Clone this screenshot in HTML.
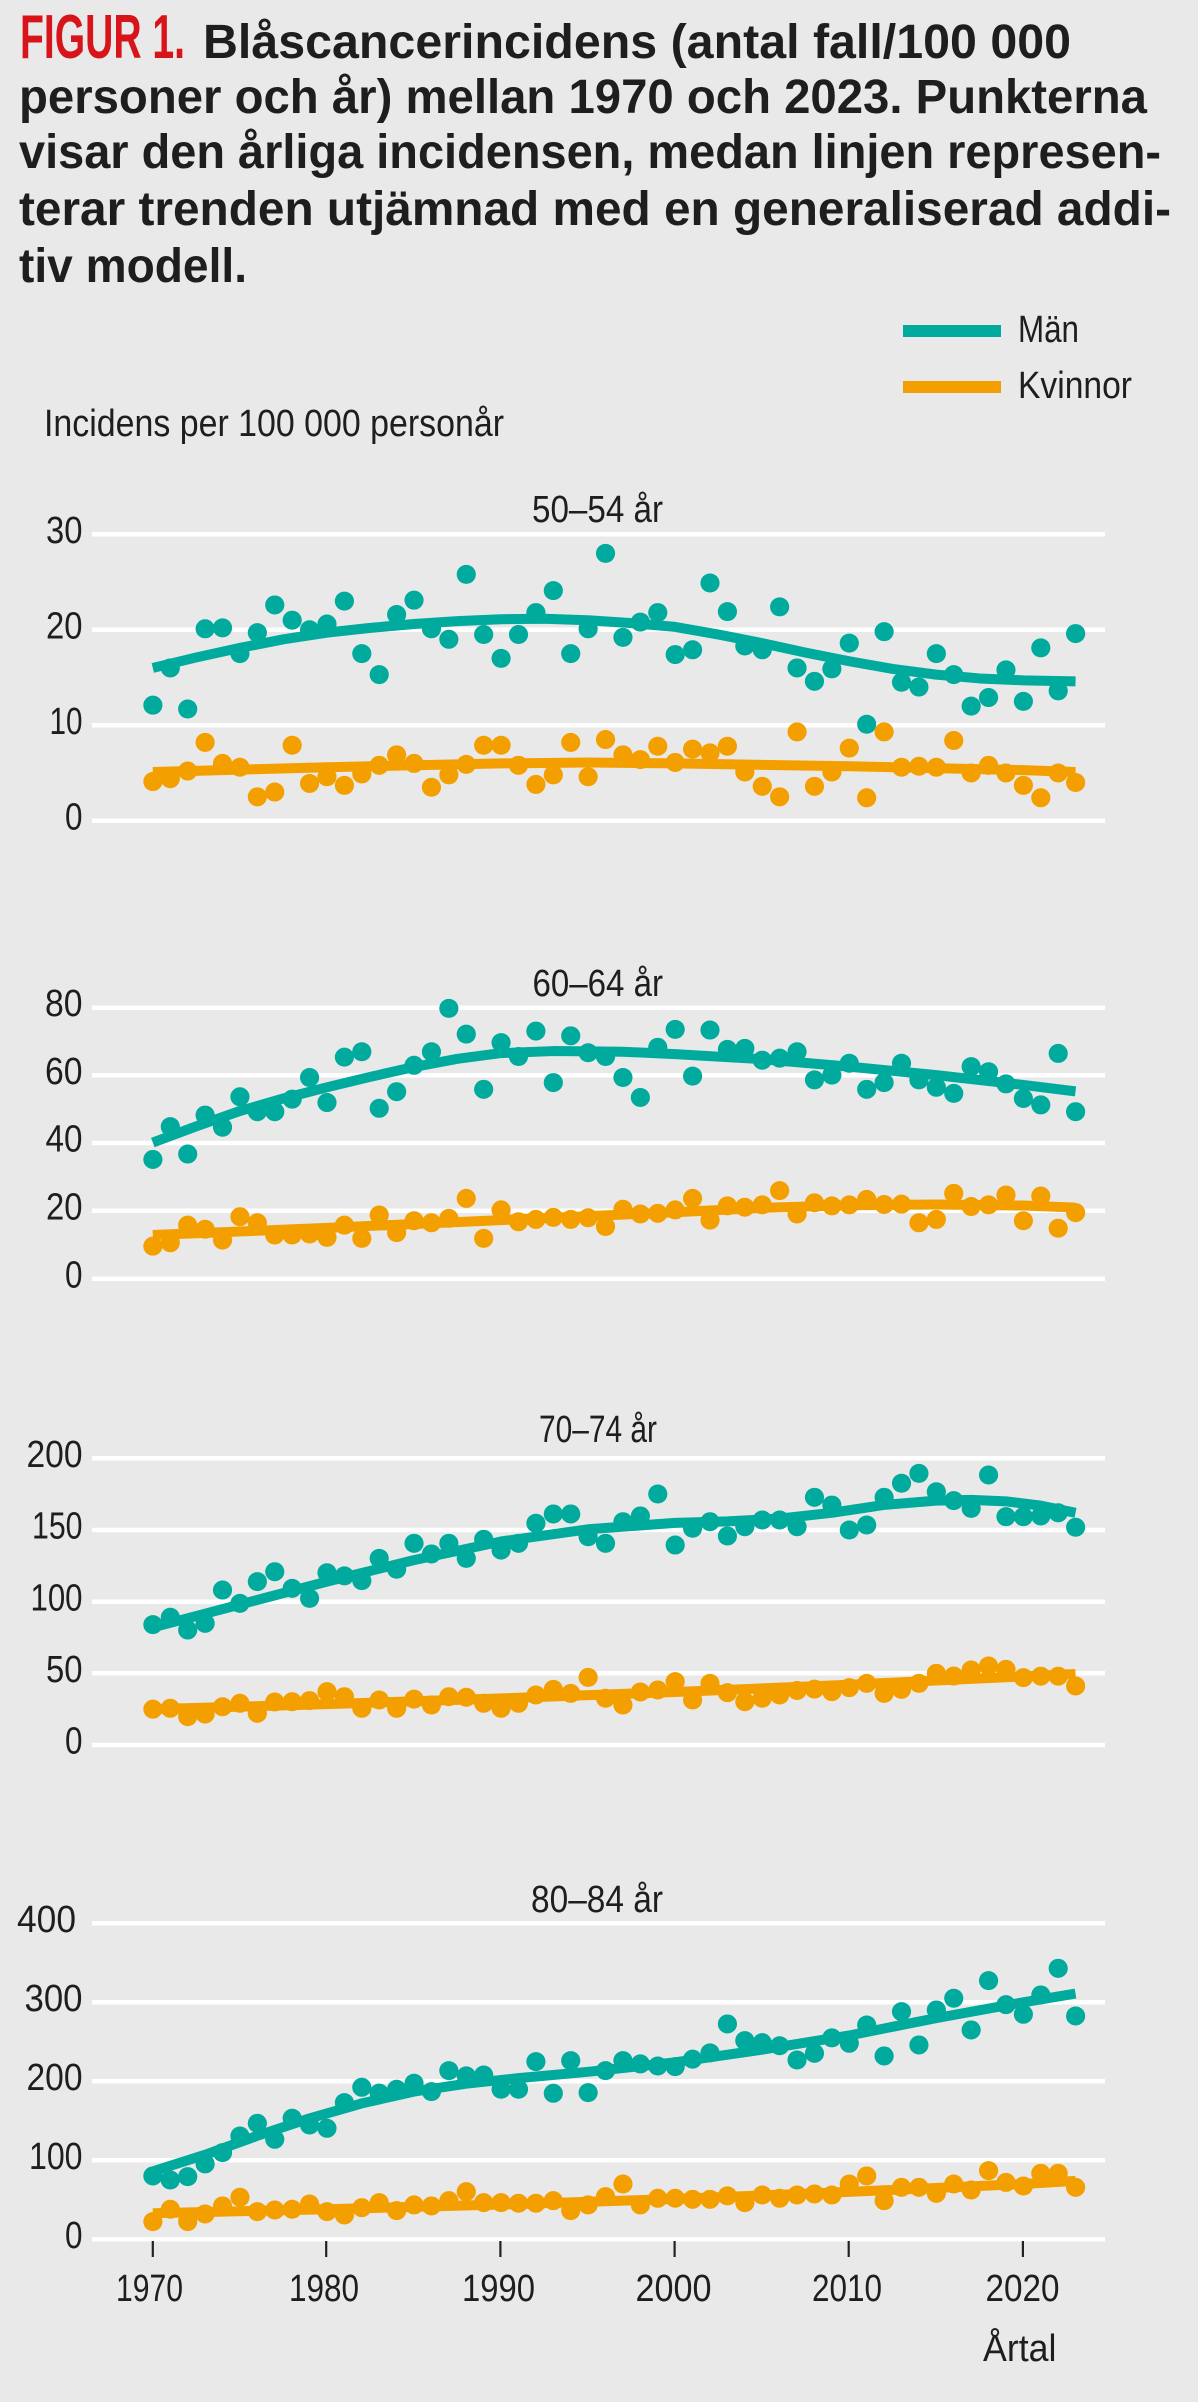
<!DOCTYPE html>
<html lang="sv">
<head>
<meta charset="utf-8">
<title>Figur 1 – Blåscancerincidens</title>
<style>
  html, body { margin: 0; padding: 0; background: #e9e9e9; }
  svg { display: block; }
  text { font-family: "Liberation Sans", Arial, sans-serif; fill: #1e1e1e; }
  .t { font-weight: bold; font-size: 48px; }
  .lab { font-size: 38px; }
  .grid { stroke: #ffffff; stroke-width: 4.5; }
  .dot { fill: none; stroke-linecap: round; stroke-width: 19; }
  .trend { fill: none; stroke-linecap: butt; stroke-linejoin: round; stroke-width: 10; }
  .teal { stroke: #00aa9d; }
  .orange { stroke: #f49f00; }
</style>
</head>
<body>
<svg width="1198" height="2402" viewBox="0 0 1198 2402" xmlns="http://www.w3.org/2000/svg">
  <rect x="0" y="0" width="1198" height="2402" fill="#e9e9e9"/>

  <!-- Title -->
  <text x="20" y="58" font-size="62" font-weight="bold" style="fill:#d7141a" textLength="165" lengthAdjust="spacingAndGlyphs">FIGUR 1.</text>
  <text class="t" x="203" y="58" textLength="868" lengthAdjust="spacingAndGlyphs">Blåscancerincidens (antal fall/100 000</text>
  <text class="t" x="19" y="113" textLength="1128" lengthAdjust="spacingAndGlyphs">personer och år) mellan 1970 och 2023. Punkterna</text>
  <text class="t" x="19" y="168" textLength="1142" lengthAdjust="spacingAndGlyphs">visar den årliga incidensen, medan linjen represen-</text>
  <text class="t" x="19" y="225" textLength="1152" lengthAdjust="spacingAndGlyphs">terar trenden utjämnad med en generaliserad addi-</text>
  <text class="t" x="19" y="282" textLength="228" lengthAdjust="spacingAndGlyphs">tiv modell.</text>

  <!-- Legend -->
  <rect x="903" y="325" width="98" height="12" fill="#00aa9d"/>
  <text class="lab" x="1018" y="342" font-size="39" textLength="61" lengthAdjust="spacingAndGlyphs">Män</text>
  <rect x="903" y="381" width="98" height="12" fill="#f49f00"/>
  <text class="lab" x="1018" y="398" font-size="39" textLength="114" lengthAdjust="spacingAndGlyphs">Kvinnor</text>

  <text class="lab" x="44" y="436" textLength="460" lengthAdjust="spacingAndGlyphs">Incidens per 100 000 personår</text>

  <!-- ================= Panel 1: 50–54 år ================= -->
  <text class="lab" x="532" y="522" textLength="131" lengthAdjust="spacingAndGlyphs">50–54 år</text>
  <line class="grid" x1="92" y1="534.3" x2="1105" y2="534.3"/>
  <line class="grid" x1="92" y1="629.7" x2="1105" y2="629.7"/>
  <line class="grid" x1="92" y1="725.3" x2="1105" y2="725.3"/>
  <line class="grid" x1="92" y1="820.7" x2="1105" y2="820.7"/>
  <text class="lab" x="46" y="543" textLength="36.5" lengthAdjust="spacingAndGlyphs">30</text>
  <text class="lab" x="46" y="638.5" textLength="36.5" lengthAdjust="spacingAndGlyphs">20</text>
  <text class="lab" x="49.5" y="734" textLength="33" lengthAdjust="spacingAndGlyphs">10</text>
  <text class="lab" x="65" y="829.5" textLength="17.5" lengthAdjust="spacingAndGlyphs">0</text>
  <g transform="matrix(17.41 0 0 -9.547 152.8 820.7)">
    <path class="trend teal" vector-effect="non-scaling-stroke" d="M0 16L2.5 17.1L5 18.1L7.5 19L10 19.7L12.5 20.2L15 20.6L17.5 20.9L20 21.1L22.5 21.15L25 21L27.5 20.7L30 20.3L32.5 19.5L35 18.6L37.5 17.6L40 16.7L42.5 15.9L45 15.3L47.5 14.9L50 14.7L53 14.6"/>
    <path class="trend orange" vector-effect="non-scaling-stroke" d="M0 5.1L10 5.6L20 6L25 6.1L30 6L40 5.7L50 5.3L53 5.1"/>
    <path class="dot teal" vector-effect="non-scaling-stroke" d="M0 12.1h.01M1 16h.01M2 11.7h.01M3 20.1h.01M4 20.2h.01M5 17.5h.01M6 19.7h.01M7 22.6h.01M8 21h.01M9 20h.01M10 20.6h.01M11 23h.01M12 17.5h.01M13 15.3h.01M14 21.6h.01M15 23.1h.01M16 20.1h.01M17 19h.01M18 25.8h.01M19 19.5h.01M20 17h.01M21 19.5h.01M22 21.8h.01M23 24.1h.01M24 17.5h.01M25 20.1h.01M26 28h.01M27 19.2h.01M28 20.8h.01M29 21.8h.01M30 17.4h.01M31 17.9h.01M32 24.9h.01M33 21.9h.01M34 18.3h.01M35 17.9h.01M36 22.4h.01M37 16h.01M38 14.6h.01M39 15.9h.01M40 18.6h.01M41 10.1h.01M42 19.8h.01M43 14.5h.01M44 14h.01M45 17.5h.01M46 15.3h.01M47 12h.01M48 12.9h.01M49 15.8h.01M50 12.5h.01M51 18.1h.01M52 13.6h.01M53 19.6h.01"/>
    <path class="dot orange" vector-effect="non-scaling-stroke" d="M0 4.1h.01M1 4.4h.01M2 5.2h.01M3 8.2h.01M4 6h.01M5 5.6h.01M6 2.5h.01M7 3h.01M8 7.9h.01M9 3.9h.01M10 4.6h.01M11 3.7h.01M12 4.9h.01M13 5.8h.01M14 6.9h.01M15 6h.01M16 3.5h.01M17 4.8h.01M18 5.9h.01M19 7.9h.01M20 7.9h.01M21 5.8h.01M22 3.8h.01M23 4.8h.01M24 8.2h.01M25 4.6h.01M26 8.5h.01M27 6.9h.01M28 6.4h.01M29 7.8h.01M30 6.1h.01M31 7.5h.01M32 7.1h.01M33 7.8h.01M34 5.1h.01M35 3.6h.01M36 2.5h.01M37 9.3h.01M38 3.6h.01M39 5.1h.01M40 7.6h.01M41 2.4h.01M42 9.3h.01M43 5.6h.01M44 5.7h.01M45 5.6h.01M46 8.4h.01M47 5h.01M48 5.8h.01M49 5h.01M50 3.7h.01M51 2.4h.01M52 5h.01M53 4h.01"/>
  </g>

  <!-- ================= Panel 2: 60–64 år ================= -->
  <text class="lab" x="532.5" y="996" textLength="130.5" lengthAdjust="spacingAndGlyphs">60–64 år</text>
  <line class="grid" x1="92" y1="1007.7" x2="1105" y2="1007.7"/>
  <line class="grid" x1="92" y1="1075.3" x2="1105" y2="1075.3"/>
  <line class="grid" x1="92" y1="1143" x2="1105" y2="1143"/>
  <line class="grid" x1="92" y1="1210.7" x2="1105" y2="1210.7"/>
  <line class="grid" x1="92" y1="1278.7" x2="1105" y2="1278.7"/>
  <text class="lab" x="45" y="1016" textLength="37.5" lengthAdjust="spacingAndGlyphs">80</text>
  <text class="lab" x="45" y="1084" textLength="37.5" lengthAdjust="spacingAndGlyphs">60</text>
  <text class="lab" x="45.5" y="1151.5" textLength="37" lengthAdjust="spacingAndGlyphs">40</text>
  <text class="lab" x="46" y="1219.5" textLength="36.5" lengthAdjust="spacingAndGlyphs">20</text>
  <text class="lab" x="65" y="1287.5" textLength="17.5" lengthAdjust="spacingAndGlyphs">0</text>
  <g transform="matrix(17.41 0 0 -3.3875 152.8 1278.7)">
    <path class="trend teal" vector-effect="non-scaling-stroke" d="M0 40.2L2.5 45L5 49.5L7.5 53.2L10 56.5L12.5 59.6L15 62.5L17.5 64.9L20 66.6L23 67.2L27 67L30 66.3L35 64.8L40 62.6L45 60.1L50 57.2L53 55.3"/>
    <path class="trend orange" vector-effect="non-scaling-stroke" d="M0 12.9L10 15L20 17.3L30 19.6L35 20.9L40 21.7L45 21.9L50 21.6L53 21"/>
    <path class="dot teal" vector-effect="non-scaling-stroke" d="M0 35.2h.01M1 44.9h.01M2 36.8h.01M3 48.3h.01M4 44.7h.01M5 53.7h.01M6 49.3h.01M7 49.3h.01M8 53h.01M9 59.4h.01M10 52h.01M11 65.4h.01M12 67h.01M13 50.3h.01M14 55.2h.01M15 63h.01M16 67h.01M17 79.8h.01M18 72.2h.01M19 55.9h.01M20 69.7h.01M21 65.6h.01M22 73.1h.01M23 57.9h.01M24 71.7h.01M25 66.7h.01M26 65.6h.01M27 59.4h.01M28 53.5h.01M29 68.3h.01M30 73.6h.01M31 59.8h.01M32 73.4h.01M33 67.7h.01M34 68h.01M35 64.5h.01M36 65.1h.01M37 67h.01M38 58.7h.01M39 60.1h.01M40 63.6h.01M41 55.9h.01M42 57.9h.01M43 63.6h.01M44 58.7h.01M45 56.5h.01M46 54.7h.01M47 62.6h.01M48 61.1h.01M49 57.5h.01M50 53.2h.01M51 51.3h.01M52 66.5h.01M53 49.3h.01"/>
    <path class="dot orange" vector-effect="non-scaling-stroke" d="M0 9.6h.01M1 10.6h.01M2 15.8h.01M3 14.6h.01M4 11.4h.01M5 18.3h.01M6 16.5h.01M7 12.9h.01M8 12.9h.01M9 13.2h.01M10 12.2h.01M11 15.8h.01M12 11.9h.01M13 18.8h.01M14 13.6h.01M15 17.1h.01M16 16.5h.01M17 17.8h.01M18 23.7h.01M19 11.9h.01M20 20.3h.01M21 16.8h.01M22 17.5h.01M23 18.1h.01M24 17.5h.01M25 18h.01M26 15.4h.01M27 20.5h.01M28 19.1h.01M29 19.3h.01M30 20.3h.01M31 23.7h.01M32 17.3h.01M33 21.5h.01M34 21.1h.01M35 21.8h.01M36 26h.01M37 19.1h.01M38 22.4h.01M39 21.5h.01M40 21.8h.01M41 23.4h.01M42 21.9h.01M43 22h.01M44 16.5h.01M45 17.5h.01M46 25.2h.01M47 21.3h.01M48 21.8h.01M49 24.7h.01M50 17.1h.01M51 24.4h.01M52 14.9h.01M53 19.5h.01"/>
  </g>

  <!-- ================= Panel 3: 70–74 år ================= -->
  <text class="lab" x="539" y="1442" textLength="118" lengthAdjust="spacingAndGlyphs">70–74 år</text>
  <line class="grid" x1="92" y1="1458.3" x2="1105" y2="1458.3"/>
  <line class="grid" x1="92" y1="1530" x2="1105" y2="1530"/>
  <line class="grid" x1="92" y1="1601.7" x2="1105" y2="1601.7"/>
  <line class="grid" x1="92" y1="1673.3" x2="1105" y2="1673.3"/>
  <line class="grid" x1="92" y1="1745" x2="1105" y2="1745"/>
  <text class="lab" x="26.5" y="1467" textLength="56" lengthAdjust="spacingAndGlyphs">200</text>
  <text class="lab" x="32" y="1538.5" textLength="50.5" lengthAdjust="spacingAndGlyphs">150</text>
  <text class="lab" x="30.5" y="1610.5" textLength="52" lengthAdjust="spacingAndGlyphs">100</text>
  <text class="lab" x="46" y="1682" textLength="36.5" lengthAdjust="spacingAndGlyphs">50</text>
  <text class="lab" x="65" y="1753.5" textLength="17.5" lengthAdjust="spacingAndGlyphs">0</text>
  <g transform="matrix(17.41 0 0 -1.4333 152.8 1745)">
    <path class="trend teal" vector-effect="non-scaling-stroke" d="M0 82L5 98L10 114L15 129L20 142L25 150.5L30 155L33 156L36 158L39 162L42 167.5L45 170.5L47 171L49 170L51 167L53 162"/>
    <path class="trend orange" vector-effect="non-scaling-stroke" d="M0 25L10 28.5L20 32.5L30 37L40 42L45 45L53 49.5"/>
    <path class="dot teal" vector-effect="non-scaling-stroke" d="M0 84h.01M1 89.1h.01M2 80.2h.01M3 84.9h.01M4 108.1h.01M5 98.8h.01M6 114h.01M7 120.9h.01M8 109.3h.01M9 102.3h.01M10 120.2h.01M11 118h.01M12 114.7h.01M13 130.2h.01M14 122.6h.01M15 140.7h.01M16 133.3h.01M17 140.7h.01M18 130.2h.01M19 143.5h.01M20 136h.01M21 140.7h.01M22 154.7h.01M23 161.2h.01M24 161.2h.01M25 145.3h.01M26 140.7h.01M27 155.8h.01M28 159.8h.01M29 175.1h.01M30 139.5h.01M31 151.2h.01M32 155.8h.01M33 145.8h.01M34 152.3h.01M35 157h.01M36 157h.01M37 152.3h.01M38 172.8h.01M39 167.4h.01M40 150h.01M41 153.5h.01M42 172.8h.01M43 182.6h.01M44 189.5h.01M45 176.7h.01M46 170.5h.01M47 165.1h.01M48 188.4h.01M49 159.3h.01M50 159.3h.01M51 159.8h.01M52 162h.01M53 151.9h.01"/>
    <path class="dot orange" vector-effect="non-scaling-stroke" d="M0 25h.01M1 25.6h.01M2 19.8h.01M3 21.6h.01M4 26.7h.01M5 29.1h.01M6 22.1h.01M7 30h.01M8 30.2h.01M9 31h.01M10 37.2h.01M11 33.7h.01M12 25.6h.01M13 31.4h.01M14 25.6h.01M15 32h.01M16 27.9h.01M17 33.7h.01M18 33.3h.01M19 29.1h.01M20 25.6h.01M21 29.1h.01M22 34.9h.01M23 38.8h.01M24 36h.01M25 47.2h.01M26 32.6h.01M27 27.9h.01M28 37h.01M29 38.4h.01M30 44.2h.01M31 31.4h.01M32 43h.01M33 36.5h.01M34 30.2h.01M35 32.6h.01M36 34.9h.01M37 38h.01M38 39h.01M39 37.2h.01M40 40h.01M41 43h.01M42 36h.01M43 38.8h.01M44 43h.01M45 50h.01M46 48.1h.01M47 52.3h.01M48 55.1h.01M49 52.8h.01M50 47h.01M51 48h.01M52 48h.01M53 41.2h.01"/>
  </g>

  <!-- ================= Panel 4: 80–84 år ================= -->
  <text class="lab" x="531" y="1912" textLength="132" lengthAdjust="spacingAndGlyphs">80–84 år</text>
  <line class="grid" x1="92" y1="1923.3" x2="1105" y2="1923.3"/>
  <line class="grid" x1="92" y1="2002.3" x2="1105" y2="2002.3"/>
  <line class="grid" x1="92" y1="2081.3" x2="1105" y2="2081.3"/>
  <line class="grid" x1="92" y1="2160.3" x2="1105" y2="2160.3"/>
  <line class="grid" x1="92" y1="2239.3" x2="1105" y2="2239.3"/>
  <text class="lab" x="17" y="1932" textLength="59" lengthAdjust="spacingAndGlyphs">400</text>
  <text class="lab" x="24.5" y="2011" textLength="58" lengthAdjust="spacingAndGlyphs">300</text>
  <text class="lab" x="26.5" y="2090" textLength="56" lengthAdjust="spacingAndGlyphs">200</text>
  <text class="lab" x="29" y="2169" textLength="53.5" lengthAdjust="spacingAndGlyphs">100</text>
  <text class="lab" x="65" y="2248" textLength="17.5" lengthAdjust="spacingAndGlyphs">0</text>
  <g transform="matrix(17.41 0 0 -0.79 152.8 2239.3)">
    <path class="trend teal" vector-effect="non-scaling-stroke" d="M0 86L3 107L6 131L9 153L12 172L15 187L18 197L21 204L25 212L30 224L35 240L40 258L45 280L50 300L53 311"/>
    <path class="trend orange" vector-effect="non-scaling-stroke" d="M0 33L10 38L20 44L30 51L40 60L50 70L53 74"/>
    <path class="dot teal" vector-effect="non-scaling-stroke" d="M0 80.2h.01M1 75.1h.01M2 79.3h.01M3 95.4h.01M4 109.7h.01M5 130.8h.01M6 146.8h.01M7 126.6h.01M8 153.2h.01M9 144.7h.01M10 140.5h.01M11 173h.01M12 192.4h.01M13 185h.01M14 189.9h.01M15 197.5h.01M16 186.9h.01M17 213.5h.01M18 206.8h.01M19 208h.01M20 189.9h.01M21 189.9h.01M22 224.9h.01M23 184.8h.01M24 226.2h.01M25 185.7h.01M26 213.5h.01M27 226.2h.01M28 222h.01M29 219.4h.01M30 218.6h.01M31 228h.01M32 236h.01M33 272.6h.01M34 251.5h.01M35 248.9h.01M36 245h.01M37 227h.01M38 235.4h.01M39 255h.01M40 248.1h.01M41 271.3h.01M42 232.1h.01M43 288.2h.01M44 246h.01M45 290.3h.01M46 305.1h.01M47 265h.01M48 327.4h.01M49 297h.01M50 284.8h.01M51 309.3h.01M52 343h.01M53 282.7h.01"/>
    <path class="dot orange" vector-effect="non-scaling-stroke" d="M0 22.4h.01M1 38h.01M2 22.4h.01M3 32.1h.01M4 42.2h.01M5 53.2h.01M6 35h.01M7 37.1h.01M8 38h.01M9 44.7h.01M10 35h.01M11 30.8h.01M12 40h.01M13 46.4h.01M14 36.3h.01M15 43.5h.01M16 42.2h.01M17 48.9h.01M18 60.3h.01M19 46.4h.01M20 46.4h.01M21 45.6h.01M22 45.6h.01M23 48.9h.01M24 36.3h.01M25 43.5h.01M26 54h.01M27 70h.01M28 43.5h.01M29 51.9h.01M30 52h.01M31 50.6h.01M32 50.6h.01M33 55h.01M34 46.4h.01M35 56.1h.01M36 51.9h.01M37 56.1h.01M38 57.4h.01M39 56.1h.01M40 70h.01M41 80.2h.01M42 48.9h.01M43 65.8h.01M44 65.8h.01M45 58.2h.01M46 70h.01M47 62.4h.01M48 86.9h.01M49 72h.01M50 67.5h.01M51 83.5h.01M52 83.5h.01M53 65.8h.01"/>
  </g>

  <!-- X axis ticks and labels -->
  <g stroke="#222" stroke-width="2.2">
    <line x1="152.8" y1="2241" x2="152.8" y2="2257"/>
    <line x1="326.2" y1="2241" x2="326.2" y2="2257"/>
    <line x1="500.4" y1="2241" x2="500.4" y2="2257"/>
    <line x1="674.6" y1="2241" x2="674.6" y2="2257"/>
    <line x1="848.7" y1="2241" x2="848.7" y2="2257"/>
    <line x1="1022.9" y1="2241" x2="1022.9" y2="2257"/>
  </g>
  <text class="lab" x="116" y="2301" textLength="67" lengthAdjust="spacingAndGlyphs">1970</text>
  <text class="lab" x="289" y="2301" textLength="70" lengthAdjust="spacingAndGlyphs">1980</text>
  <text class="lab" x="462" y="2301" textLength="73" lengthAdjust="spacingAndGlyphs">1990</text>
  <text class="lab" x="635.5" y="2301" textLength="76" lengthAdjust="spacingAndGlyphs">2000</text>
  <text class="lab" x="812" y="2301" textLength="70" lengthAdjust="spacingAndGlyphs">2010</text>
  <text class="lab" x="985.5" y="2301" textLength="74" lengthAdjust="spacingAndGlyphs">2020</text>
  <text class="lab" x="983" y="2361" textLength="73.5" lengthAdjust="spacingAndGlyphs">Årtal</text>
</svg>
</body>
</html>
